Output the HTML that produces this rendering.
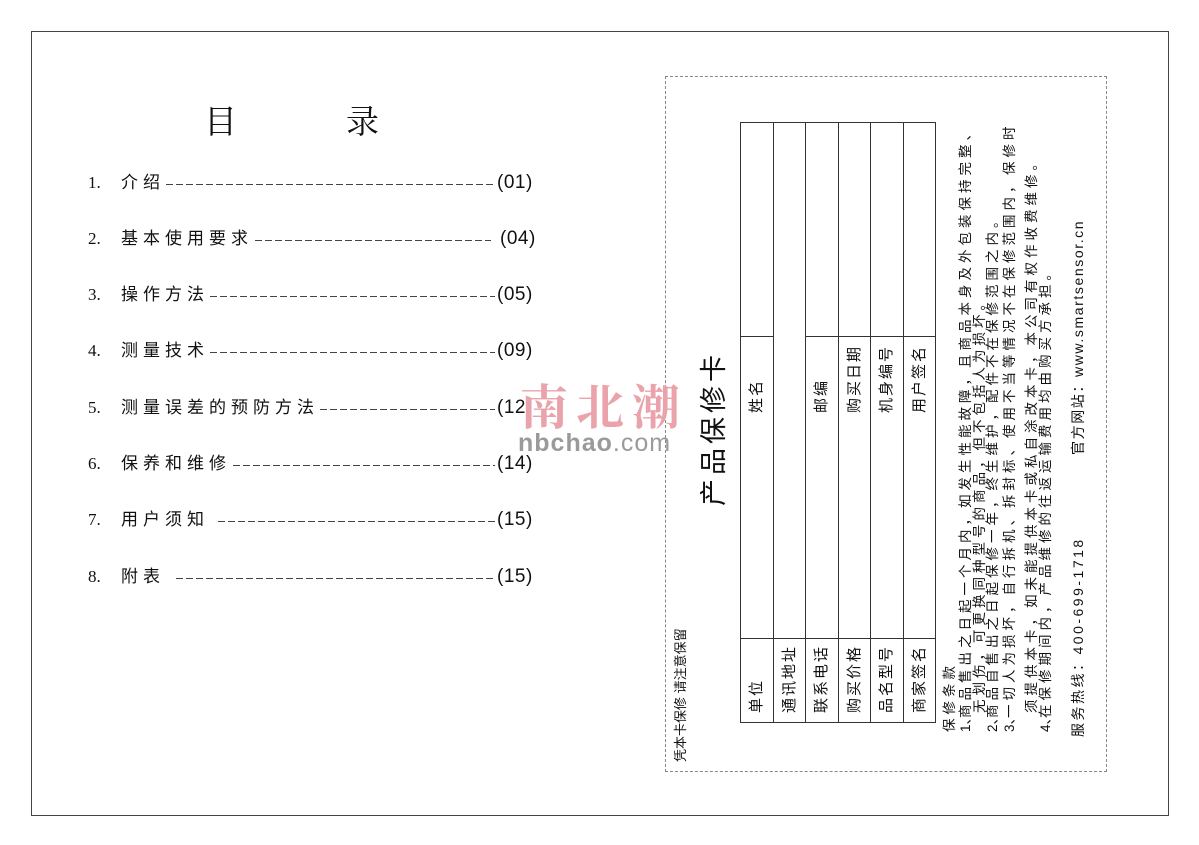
<!DOCTYPE html>
<html><head><meta charset="utf-8"><style>
body{margin:0;background:#fff;width:1199px;height:845px;position:relative;overflow:hidden;font-family:"Liberation Sans","Noto Sans CJK SC",sans-serif;color:#111}
.abs{position:absolute;white-space:nowrap}
#outer{position:absolute;left:31px;top:31px;width:1136px;height:783px;border:1px solid #444}
#panel{position:absolute;left:665px;top:76px;width:440px;height:694px;border:1px dashed #888}
.toc{position:absolute;left:88px;width:450px;height:24px;line-height:24px;white-space:nowrap}
.toc .n{position:absolute;left:0;top:0;font-family:"Liberation Serif","Noto Serif CJK SC",serif;font-size:17px}
.toc .t{position:absolute;left:33px;top:0;letter-spacing:5px;font-size:17px}
.toc .p{position:absolute;left:409px;top:0;font-size:19px;letter-spacing:0.5px}
.toc .d{position:absolute;height:1px;top:13px;right:43px;background:repeating-linear-gradient(90deg,#444 0 7px,transparent 7px 10px)}
#rot{position:absolute;left:665px;top:770px;width:694px;height:441px;transform:rotate(-90deg);transform-origin:0 0}
#rot .abs{line-height:1}
.lab{font-size:15px;letter-spacing:2px}
.w{font-size:13.5px;letter-spacing:4px}
</style></head><body>
<div id="outer"></div>
<div id="panel"></div>

<div class="abs" style="left:204px;top:96px;font-size:33px;font-family:'Liberation Serif','Noto Serif CJK SC',serif">目</div>
<div class="abs" style="left:346px;top:96px;font-size:33px;font-family:'Liberation Serif','Noto Serif CJK SC',serif">录</div>

<div class="toc" style="top:171px"><span class="n">1.</span><span class="t">介绍</span><span class="d" style="left:78px"></span><span class="p">(01)</span></div>
<div class="toc" style="top:227px"><span class="n">2.</span><span class="t">基本使用要求</span><span class="d" style="left:167px;right:47px"></span><span class="p" style="left:412px">(04)</span></div>
<div class="toc" style="top:283px"><span class="n">3.</span><span class="t">操作方法</span><span class="d" style="left:122px"></span><span class="p">(05)</span></div>
<div class="toc" style="top:339px"><span class="n">4.</span><span class="t">测量技术</span><span class="d" style="left:122px"></span><span class="p">(09)</span></div>
<div class="toc" style="top:396px"><span class="n">5.</span><span class="t">测量误差的预防方法</span><span class="d" style="left:232px"></span><span class="p">(12)</span></div>
<div class="toc" style="top:452px"><span class="n">6.</span><span class="t">保养和维修</span><span class="d" style="left:145px"></span><span class="p">(14)</span></div>
<div class="toc" style="top:508px"><span class="n">7.</span><span class="t">用户须知</span><span class="d" style="left:130px"></span><span class="p">(15)</span></div>
<div class="toc" style="top:565px"><span class="n">8.</span><span class="t">附表</span><span class="d" style="left:88px"></span><span class="p">(15)</span></div>

<div class="abs" style="left:520px;top:380px;font-size:48px;color:#eaa3ab;font-weight:bold;letter-spacing:8px;font-family:'Noto Serif CJK SC',serif;line-height:1">南北潮</div>
<div class="abs" style="left:518px;top:431px;font-size:25px;color:#9a9a9a;font-weight:bold;line-height:1;letter-spacing:1px">nbchao<span style="font-weight:normal">.com</span></div>

<div id="rot">
<svg width="694" height="441" style="position:absolute;left:0;top:0">
<g stroke="#333" stroke-width="1" fill="none">
<rect x="47.5" y="75.5" width="600" height="195"/>
<line x1="47" y1="108.5" x2="647" y2="108.5"/>
<line x1="47" y1="140.5" x2="647" y2="140.5"/>
<line x1="47" y1="173.5" x2="647" y2="173.5"/>
<line x1="47" y1="205.5" x2="647" y2="205.5"/>
<line x1="47" y1="238.5" x2="647" y2="238.5"/>
<line x1="131.5" y1="75" x2="131.5" y2="271"/>
<line x1="433.5" y1="75" x2="433.5" y2="108"/>
<line x1="433.5" y1="140" x2="433.5" y2="271"/>
</g></svg>
<div class="abs" style="left:8px;top:9px;font-size:13px">凭本卡保修 请注意保留</div>
<div class="abs" style="left:264px;top:36px;font-size:27px;letter-spacing:4px">产品保修卡</div>

<div class="abs lab" style="left:57px;top:84px">单位</div>
<div class="abs lab" style="left:57px;top:117px">通讯地址</div>
<div class="abs lab" style="left:57px;top:149px">联系电话</div>
<div class="abs lab" style="left:57px;top:182px">购买价格</div>
<div class="abs lab" style="left:57px;top:214px">品名型号</div>
<div class="abs lab" style="left:57px;top:247px">商家签名</div>
<div class="abs lab" style="left:357px;top:84px">姓名</div>
<div class="abs lab" style="left:357px;top:149px">邮编</div>
<div class="abs lab" style="left:357px;top:182px">购买日期</div>
<div class="abs lab" style="left:357px;top:214px">机身编号</div>
<div class="abs lab" style="left:357px;top:247px">用户签名</div>

<div class="abs w" style="left:38px;top:278px">保修条款</div>
<div class="abs w" style="left:38px;top:294px;letter-spacing:0">1、</div>
<div class="abs w" style="left:52px;top:294px">商品售出之日起一个月内，如发生性能故障，且商品本身及外包装保持完整、</div>
<div class="abs w" style="left:57px;top:308px">无划伤，可更换同种型号的商品，但不包括人为损坏。</div>
<div class="abs w" style="left:38px;top:321px;letter-spacing:0">2、</div>
<div class="abs w" style="left:52px;top:321px">商品自售出之日起保修一年，终生维护，配件不在保修范围之内。</div>
<div class="abs w" style="left:38px;top:338px;letter-spacing:0">3、</div>
<div class="abs w" style="left:52px;top:338px">一切人为损坏，自行拆机、拆封标、使用不当等情况不在保修范围内，</div>
<div class="abs w" style="left:595px;top:338px">保修时</div>
<div class="abs w" style="left:57px;top:360px">须提供本卡，如未能提供本卡或私自涂改本卡，本公司有权作收费维修。</div>
<div class="abs w" style="left:38px;top:374px;letter-spacing:0">4、</div>
<div class="abs w" style="left:52px;top:374px">在保修期间内，产品维修的往返运输费用均由购买方承担。</div>

<div class="abs" style="left:33px;top:406px;font-size:14px;letter-spacing:2.5px">服务热线：400-699-1718</div>
<div class="abs" style="left:315px;top:406px;font-size:14px;letter-spacing:1.6px">官方网站：www.smartsensor.cn</div>
</div>
</body></html>
